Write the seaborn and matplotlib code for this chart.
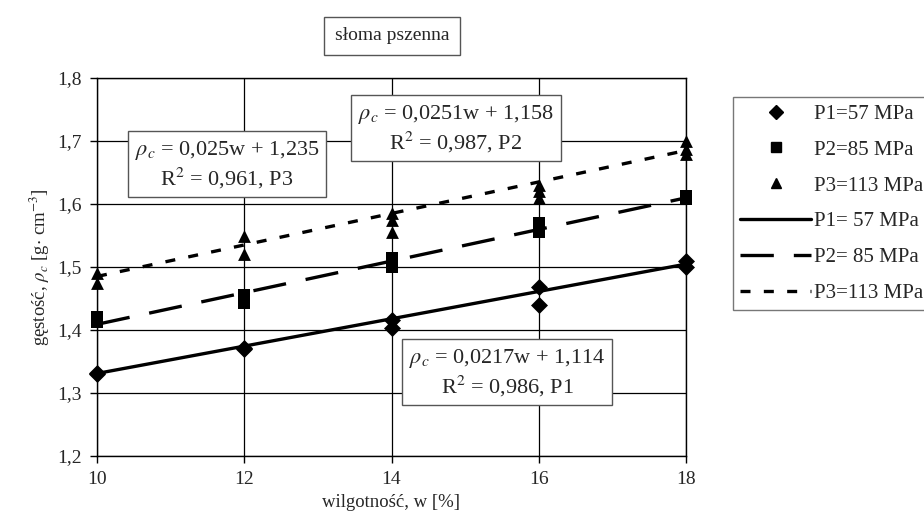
import numpy as np
import pandas as pd
import matplotlib
matplotlib.use("Agg")
import matplotlib.pyplot as plt
from matplotlib.lines import Line2D
import seaborn as sns

# measured density of wheat-straw briquettes vs. moisture, three pressures
p1_w = [10, 10, 12, 12, 14, 14, 16, 16, 18, 18]
p1_rho = [1.330, 1.332, 1.370, 1.372, 1.416, 1.403, 1.468, 1.440, 1.510, 1.500]

p2_w = [10, 10, 12, 12, 14, 14, 16, 16, 18, 18]
p2_rho = [1.420, 1.412, 1.455, 1.443, 1.515, 1.500, 1.570, 1.555, 1.612, 1.608]

p3_w = [10, 10, 12, 12, 14, 14, 14, 16, 16, 16, 18, 18, 18]
p3_rho = [1.490, 1.475, 1.550, 1.520, 1.585, 1.575, 1.555, 1.630, 1.620, 1.610, 1.700, 1.688, 1.680]

# linear trend lines rho = a*w + b
fit_slope = [0.0217, 0.0251, 0.025]
fit_intercept = [1.114, 1.158, 1.235]
fit_r2 = [0.986, 0.987, 0.961]
fit_names = ["P1", "P2", "P3"]
fit_range = [10, 18]

point_labels = ["P1=57 MPa", "P2=85 MPa", "P3=113 MPa"]
line_labels = ["P1= 57 MPa", "P2= 85 MPa", "P3=113 MPa"]

x_ticks = [10, 12, 14, 16, 18]
y_ticks = [1.2, 1.3, 1.4, 1.5, 1.6, 1.7, 1.8]

sns.set_style("ticks")
plt.rcParams["font.family"] = ["Liberation Serif", "DejaVu Serif"]
plt.rcParams["mathtext.fontset"] = "stix"

fig = plt.figure(figsize=(9.24, 5.29), dpi=100)
ax = fig.add_axes([97 / 924, 1 - 456 / 529, (686 - 97) / 924, (456 - 78) / 529])

markers = ["D", "s", "^"]
sizes = [75, 65, 85]
point_sets = [(p1_w, p1_rho), (p2_w, p2_rho), (p3_w, p3_rho)]
for (w, rho), m, s in zip(point_sets, markers, sizes):
    df = pd.DataFrame({"w": w, "rho": rho})
    sns.scatterplot(data=df, x="w", y="rho", marker=m, s=s, color="black",
                    edgecolor="black", linewidth=0, ax=ax, zorder=4, clip_on=False)

dash_styles = ["-", (0, (10, 6)), (0, (3, 4))]
for a, b, ls in zip(fit_slope, fit_intercept, dash_styles):
    xs = np.array(fit_range, dtype=float)
    df = pd.DataFrame({"w": xs, "rho": a * xs + b})
    sns.lineplot(data=df, x="w", y="rho", color="black", lw=2.4, ax=ax, zorder=3)
    ax.lines[-1].set_linestyle(ls)

ax.set_xlim(10, 18)
ax.set_ylim(1.2, 1.8)
ax.set_xticks(x_ticks)
ax.set_yticks(y_ticks)
ax.set_xticklabels([str(t) for t in x_ticks])
ax.set_yticklabels([f"{t:.1f}".replace(".", ",") for t in y_ticks])
ax.grid(True, color="black", lw=0.9)
ax.set_axisbelow(True)
for sp in ax.spines.values():
    sp.set_color("black")
    sp.set_linewidth(1.0)
ax.tick_params(axis="both", labelsize=14, length=5, width=1, color="black", pad=6)

ax.set_xlabel("wilgotność, w [%]", fontsize=13.5, labelpad=4)
ax.set_ylabel(r"gęstość, $\rho_c$ [g$\cdot$ cm$^{-3}$]", fontsize=13.5, labelpad=4)

box = dict(boxstyle="square,pad=0.3", facecolor="white", edgecolor="#555555", lw=1)

def eq_text(i):
    a = f"{fit_slope[i]:g}".replace(".", ",")
    b = f"{fit_intercept[i]:.3f}".replace(".", ",")
    r = f"{fit_r2[i]:.3f}".replace(".", ",")
    return (r"$\rho_c$" + f" = {a}w + {b}\n" + r"R$^2$" + f" = {r}, {fit_names[i]}")

eq_pos = [(507, 373), (456, 129), (227, 165)]
for i, (px, py) in enumerate(eq_pos):
    fig.text(px / 924, 1 - py / 529, eq_text(i), ha="center", va="center",
             fontsize=16, bbox=box, linespacing=1.15, zorder=10)

fig.text(392 / 924, 1 - 36 / 529, "słoma pszenna", ha="center", va="center",
         fontsize=14, bbox=dict(boxstyle="square,pad=0.55", facecolor="white",
                                edgecolor="#555555", lw=1))

handles = []
for m, lab in zip(markers, point_labels):
    handles.append(Line2D([], [], marker=m, color="black", linestyle="none",
                          markersize=7.5, label=lab))
for ls, lab in zip(dash_styles, line_labels):
    handles.append(Line2D([], [], color="black", lw=2.4, linestyle=ls, label=lab))

leg = fig.legend(handles=handles, loc="upper left",
                 bbox_to_anchor=(733 / 924, 1 - 97 / 529),
                 fontsize=15, handlelength=3.4, handletextpad=0.15,
                 labelspacing=0.78, borderpad=0.35, borderaxespad=0,
                 frameon=True, fancybox=False)
leg.get_frame().set_edgecolor("#555555")
leg.get_frame().set_linewidth(1)

fig.savefig("out.png", dpi=100)
